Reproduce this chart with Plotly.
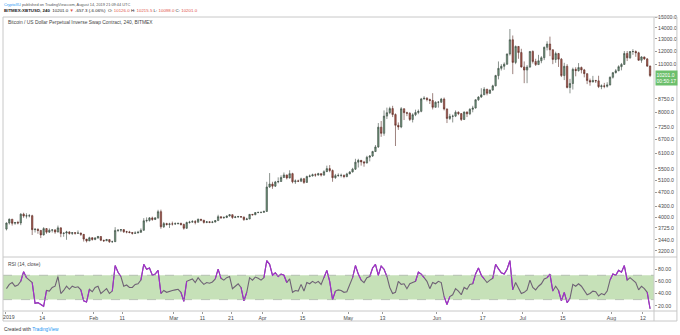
import pandas as pd
import plotly.graph_objects as go

# ---- XBTUSD daily OHLC, 2019-01-01 .. 2019-08-14 ----
opens = [
    # Jan
    3693, 3844, 3943, 3837, 3858, 3845, 4077, 4026, 4031, 4035, 3679, 3688, 3661, 3553, 3705, 3619,
    3666, 3673, 3623, 3723, 3588, 3597, 3623, 3587, 3607, 3593, 3598, 3566, 3457, 3415, 3487,
    # Feb
    3448, 3483, 3515, 3430, 3419, 3445, 3396, 3397, 3661, 3665, 3680, 3628, 3624, 3611, 3590, 3600,
    3616, 3665, 3901, 3911, 3977, 3935, 3978, 4144, 3749, 3830, 3807, 3822,
    # Mar
    3819, 3826, 3836, 3808, 3713, 3858, 3867, 3880, 3863, 3940, 3918, 3860, 3875, 3861, 3868, 3906,
    4010, 3982, 3988, 4028, 4061, 3988, 4002, 4011, 4000, 3932, 3949, 4071, 4060, 4121, 4125,
    # Apr
    4126, 4151, 4880, 4976, 4907, 5045, 5060, 5195, 5285, 5180, 5330, 5050, 5080, 5070, 5150, 5030,
    5230, 5250, 5290, 5280, 5330, 5280, 5400, 5510, 5440, 5190, 5260, 5270, 5270, 5230,
    # May
    5320, 5390, 5490, 5750, 5820, 5760, 5720, 5940, 5990, 6170, 6360, 7250, 6960, 7800, 7980, 8200,
    7880, 7340, 7260, 8190, 7980, 7950, 7630, 7870, 7990, 8050, 8740, 8780, 8710, 8650, 8270,
    # Jun
    8550, 8550, 8730, 8180, 7680, 7790, 7800, 8000, 7930, 7630, 8010, 7920, 8160, 8230, 8690, 8850,
    8980, 9320, 9070, 9270, 9530, 10200, 10700, 10850, 11000, 11770, 12930, 11130, 12370, 11880,
    # Jul
    10800, 10580, 10790, 11970, 11200, 10970, 11250, 11480, 12300, 12570, 12100, 11350, 11800, 11370,
    10200, 10850, 9430, 9680, 10630, 10540, 10760, 10590, 10330, 9870, 9770, 9880, 9850, 9480, 9530,
    9500, 9590,
    # Aug
    10090, 10400, 10530, 10820, 10980, 11810, 11470, 11960, 11960, 11860, 11290, 11540, 11390, 10860,
]
highs = [
    3860, 3960, 3945, 3870, 3900, 4100, 4115, 4100, 4080, 4060, 3720, 3710, 3670, 3740, 3715, 3710,
    3690, 3690, 3780, 3730, 3610, 3650, 3640, 3620, 3620, 3660, 3605, 3570, 3440, 3510, 3500,
    3500, 3530, 3520, 3440, 3460, 3450, 3420, 3740, 3690, 3690, 3685, 3650, 3650, 3620, 3640, 3650,
    3710, 3970, 3990, 4000, 4010, 3990, 4195, 4200, 3870, 3850, 3850, 3880,
    3860, 3850, 3850, 3830, 3880, 3900, 3920, 3920, 3960, 3950, 3920, 3890, 3890, 3900, 3920, 4060,
    4010, 4020, 4040, 4080, 4070, 4030, 4030, 4020, 4010, 3980, 4080, 4080, 4130, 4140, 4140,
    4170, 5050, 5350, 5050, 5080, 5200, 5270, 5370, 5290, 5450, 5360, 5130, 5120, 5190, 5180, 5260,
    5300, 5330, 5340, 5360, 5340, 5450, 5620, 5640, 5480, 5320, 5340, 5330, 5300, 5360,
    5420, 5540, 5880, 5880, 5800, 5800, 6000, 6030, 6200, 6440, 7450, 7550, 8100, 8250, 8300, 8350,
    7940, 7480, 8280, 8180, 8030, 8000, 7950, 8140, 8150, 8800, 8900, 8840, 8750, 9080, 8600,
    8620, 8800, 8820, 8200, 7920, 7880, 8100, 8050, 7950, 8050, 8050, 8220, 8350, 8720, 8900, 9380,
    9450, 9340, 9300, 9600, 10250, 11200, 11000, 11130, 11800, 13880, 13300, 12450, 12300, 12180,
    11200, 10930, 12000, 12050, 11400, 11700, 11600, 12360, 12800, 13200, 12120, 11950, 11850, 11460,
    11100, 11000, 9980, 10750, 10780, 11080, 10830, 10660, 10350, 10000, 10180, 9900, 10190, 9620,
    9720, 9760, 10140,
    10450, 10650, 10920, 11090, 12000, 12000, 12000, 12150, 12050, 11940, 11600, 11560, 11460, 10900,
]
lows = [
    3660, 3805, 3780, 3800, 3810, 3790, 3980, 3960, 3990, 3550, 3610, 3580, 3480, 3540, 3580, 3600,
    3610, 3580, 3610, 3500, 3510, 3440, 3560, 3550, 3560, 3580, 3530, 3400, 3380, 3410, 3420,
    3430, 3460, 3410, 3390, 3410, 3370, 3375, 3390, 3620, 3620, 3600, 3590, 3590, 3560, 3580, 3590,
    3600, 3650, 3860, 3880, 3900, 3920, 3950, 3700, 3720, 3780, 3720, 3780,
    3800, 3810, 3780, 3680, 3700, 3830, 3850, 3810, 3860, 3890, 3830, 3840, 3840, 3840, 3860, 3900,
    3950, 3950, 3970, 4010, 3950, 3970, 3980, 3980, 3900, 3920, 3940, 4040, 4050, 4100, 4100,
    4110, 4140, 4850, 4820, 4880, 5000, 5050, 5180, 5130, 5160, 5000, 4980, 5040, 5040, 4980, 5020,
    5200, 5230, 5220, 5260, 5230, 5250, 5390, 5380, 5050, 5150, 5220, 5200, 5170, 5200,
    5310, 5370, 5460, 5550, 5620, 5580, 5700, 5780, 5950, 6150, 6320, 6800, 6850, 7650, 7900, 7750,
    6400, 7120, 7200, 7600, 7800, 7550, 7480, 7800, 7900, 8000, 8700, 8600, 8450, 8150, 8250,
    8250, 8520, 8100, 7450, 7600, 7480, 7750, 7850, 7550, 7600, 7750, 7850, 8000, 8200, 8630, 8800,
    8970, 8950, 9050, 9220, 9500, 9950, 10550, 10600, 10950, 11650, 10300, 11000, 11400, 10750,
    9700, 9700, 10750, 11050, 10870, 10950, 11070, 11300, 12050, 11600, 11000, 11100, 10800, 10100,
    9900, 9370, 9070, 9300, 10150, 10470, 10350, 10080, 9640, 9540, 9770, 9710, 9390, 9320,
    9380, 9420, 9550,
    10000, 10340, 10500, 10560, 10970, 11230, 11400, 11700, 11550, 11250, 11100, 11320, 10800, 10100,
]
closes = [
    3844, 3943, 3837, 3858, 3845, 4077, 4026, 4031, 4035, 3679, 3688, 3661, 3553, 3705, 3619, 3666,
    3673, 3623, 3723, 3588, 3597, 3623, 3587, 3607, 3593, 3598, 3566, 3457, 3415, 3487, 3448,
    3483, 3515, 3430, 3419, 3445, 3396, 3397, 3661, 3665, 3680, 3628, 3624, 3611, 3590, 3600, 3616,
    3665, 3901, 3911, 3977, 3935, 3978, 4144, 3749, 3830, 3807, 3822, 3819,
    3826, 3836, 3808, 3713, 3858, 3867, 3880, 3863, 3940, 3918, 3860, 3875, 3861, 3868, 3906, 4010,
    3982, 3988, 4028, 4061, 3988, 4002, 4011, 4000, 3932, 3949, 4071, 4060, 4121, 4125, 4126,
    4151, 4880, 4976, 4907, 5045, 5060, 5195, 5285, 5180, 5330, 5050, 5080, 5070, 5150, 5030, 5230,
    5250, 5290, 5280, 5330, 5280, 5400, 5510, 5440, 5190, 5260, 5270, 5270, 5230, 5320,
    5390, 5490, 5750, 5820, 5760, 5720, 5940, 5990, 6170, 6360, 7250, 6960, 7800, 7980, 8200, 7880,
    7340, 7260, 8190, 7980, 7950, 7630, 7870, 7990, 8050, 8740, 8780, 8710, 8650, 8270, 8550,
    8550, 8730, 8180, 7680, 7790, 7800, 8000, 7930, 7630, 8010, 7920, 8160, 8230, 8690, 8850, 8980,
    9320, 9070, 9270, 9530, 10200, 10700, 10850, 11000, 11770, 12930, 11130, 12370, 11880, 10800,
    10580, 10790, 11970, 11200, 10970, 11250, 11480, 12300, 12570, 12100, 11350, 11800, 11370, 10200,
    10850, 9430, 9680, 10630, 10540, 10760, 10590, 10330, 9870, 9770, 9880, 9850, 9480, 9530,
    9500, 9590, 10090,
    10400, 10530, 10820, 10980, 11810, 11470, 11960, 11960, 11860, 11290, 11540, 11390, 10860, 10201,
]

# ---- RSI(14, close), one reading per day ----
rsi = [
    # Jan
    48, 55, 58, 52, 54, 60, 76, 66, 62, 58, 24, 25, 22, 19, 45, 44, 50, 52, 68, 40, 45, 52, 47, 52,
    50, 51, 46, 28, 26, 47, 43,
    # Feb
    50, 52, 40, 44, 48, 40, 44, 86, 75, 68, 52, 54, 50, 50, 55, 56, 62, 88, 80, 82, 70, 72, 78, 40,
    45, 42, 44, 45,
    # Mar
    46, 47, 42, 27, 60, 62, 64, 58, 66, 60, 55, 58, 57, 59, 64, 80, 65, 62, 66, 68, 48, 52, 56, 50,
    28, 42, 66, 62, 67, 65, 62,
    # Apr
    66, 94, 88, 70, 74, 68, 72, 70, 58, 64, 42, 45, 44, 55, 44, 58, 56, 60, 57, 60, 55, 66, 78, 60,
    30, 44, 46, 45, 42, 43,
    # May
    55, 66, 86, 72, 62, 58, 66, 68, 82, 88, 70, 85, 80, 68, 50, 40, 42, 60, 55, 56, 48, 56, 58, 60,
    75, 72, 66, 60, 48, 58, 56,
    # Jun
    60, 58, 35, 22, 35, 38, 48, 44, 38, 50, 47, 55, 56, 72, 82, 70, 64, 58, 62, 65, 88, 80, 74, 72,
    80, 94, 46, 58, 50, 40,
    # Jul
    42, 46, 62, 50, 46, 52, 56, 64, 66, 72, 44, 52, 45, 28, 42, 25, 32, 55, 52, 56, 52, 45, 38, 40,
    44, 43, 36, 40, 38, 44, 62,
    # Aug
    72, 70, 78, 75, 86, 62, 66, 62, 58, 46, 52, 48, 42, 15,
]

time_tick_dates = ["2019-01-01", "2019-01-14", "2019-02-01", "2019-02-11", "2019-03-01",
                   "2019-03-11", "2019-03-21", "2019-04-01", "2019-04-15", "2019-05-01",
                   "2019-05-13", "2019-06-01", "2019-06-17", "2019-07-01", "2019-07-15",
                   "2019-08-01", "2019-08-12"]
time_tick_text = ["", "14", "Feb", "11", "Mar", "11", "21", "Apr", "15", "May", "13",
                  "Jun", "17", "Jul", "15", "Aug", "12"]
year_label = "2019"

price_ticks = [15000, 14000, 13000, 12000, 11000, 8750, 8000, 7250, 6700, 6100, 5500, 5100,
               4700, 4300, 4000, 3725, 3440, 3200]
rsi_ticks = [20, 40, 60, 80]

last_price = 10201.0
countdown = "00:50:17"

dates = pd.date_range("2019-01-01 12:00", periods=len(closes), freq="D")

FONT = "Liberation Sans"

fig = go.Figure()
fig.add_trace(go.Candlestick(
    x=dates, open=opens, high=highs, low=lows, close=closes,
    xaxis="x", yaxis="y", whiskerwidth=0,
    increasing=dict(line=dict(color="#3d4a42", width=0.6), fillcolor="#6f977c"),
    decreasing=dict(line=dict(color="#5a2d27", width=0.6), fillcolor="#a9574c"),
    showlegend=False, hoverinfo="skip",
))

# RSI line, with the overbought / oversold stretches in purple
fig.add_trace(go.Scatter(x=dates, y=rsi, xaxis="x2", yaxis="y2", mode="lines",
                         line=dict(color="#6f6275", width=1.1), showlegend=False,
                         hoverinfo="skip"))
n = len(rsi)
outside = [(v >= 70 or v <= 30) for v in rsi]
rsi_ext = [rsi[i] if (outside[i] or (i > 0 and outside[i - 1]) or (i < n - 1 and outside[i + 1]))
           else None for i in range(n)]
fig.add_trace(go.Scatter(x=dates, y=rsi_ext, xaxis="x2", yaxis="y2", mode="lines",
                         line=dict(color="#a42bd0", width=1.1), connectgaps=False,
                         showlegend=False, hoverinfo="skip"))

# plot area: x 3..656 px, y 17..311 px
L, R, T, B = 3, 24, 17, 24
W, H = 680, 335
pw, ph = W - L - R, H - T - B


def px(xp):
    return (xp - L) / pw


def py(yp):
    return (H - B - yp) / ph


split = py(257)

xr = ["2018-12-31 07:00", "2019-08-15 21:00"]
axis_font = dict(family=FONT, size=5.2, color="#4a4a4a")

fig.update_layout(
    width=W, height=H, margin=dict(l=L, r=R, t=T, b=B),
    paper_bgcolor="white", plot_bgcolor="white",
    xaxis=dict(domain=[0, 1], anchor="y", range=xr, showticklabels=False, showgrid=False,
               zeroline=False, rangeslider=dict(visible=False), matches="x2", ticks=""),
    xaxis2=dict(domain=[0, 1], anchor="y2", range=xr, showgrid=False, zeroline=False,
                tickvals=time_tick_dates, ticktext=time_tick_text, tickfont=axis_font,
                ticks="outside", ticklen=2, tickcolor="#9a9a9a", tickangle=0),
    yaxis=dict(domain=[split, 1], anchor="x", type="log", side="right",
               range=[3.4871, 4.1770], showgrid=False, zeroline=False,
               tickvals=price_ticks, ticktext=[f"{v:.1f}" for v in price_ticks],
               tickfont=axis_font, ticks="outside", ticklen=2, tickcolor="#9a9a9a"),
    yaxis2=dict(domain=[0, split], anchor="x2", side="right", range=[11.3, 100],
                showgrid=False, zeroline=False, tickvals=rsi_ticks,
                ticktext=[f"{v:.2f}" for v in rsi_ticks], tickfont=axis_font,
                ticks="outside", ticklen=2, tickcolor="#9a9a9a"),
)

shapes = [
    # RSI 30-70 band
    dict(type="rect", xref="x2 domain", yref="y2", x0=0, x1=1, y0=30, y1=70,
         fillcolor="rgba(128,189,98,0.45)", line=dict(width=0), layer="below"),
    dict(type="line", xref="x2 domain", yref="y2", x0=0, x1=1, y0=70, y1=70,
         line=dict(color="#9aa39a", width=0.6, dash="dash")),
    dict(type="line", xref="x2 domain", yref="y2", x0=0, x1=1, y0=30, y1=30,
         line=dict(color="#9aa39a", width=0.6, dash="dash")),
]
frame = dict(color="#c8c8c8", width=1)
for (x0, y0, x1, y1) in [
    (3, 17, 679, 17),      # top
    (3, 257, 679, 257),    # pane separator
    (3, 311, 679, 311),    # time scale top
    (3, 321, 679, 321),    # bottom
    (3, 17, 3, 321),       # left
    (656, 17, 656, 321),   # price scale
    (679, 17, 679, 321),   # right
]:
    shapes.append(dict(type="line", xref="paper", yref="paper", x0=px(x0), x1=px(x1),
                       y0=py(y0), y1=py(y1), line=frame))
fig.update_layout(shapes=shapes)

red = "#e0524a"
annotations = [
    dict(text="<span style='color:#2196f3'>CryptoXU</span> published on TradingView.com, "
              "August 14, 2019 21:09:44 UTC",
         x=px(2), y=py(4.5), font=dict(family=FONT, size=3.9, color="#555")),
    dict(text="<b>BITMEX:XBTUSD, 240</b>  10201.0 <span style='color:%s'>▼</span> -657.3 (-6.06%%)"
              "  O: <span style='color:%s'>10126.0</span> H: <span style='color:%s'>10215.5</span>"
              " L: <span style='color:%s'>10098.0</span> C: <span style='color:%s'>10201.0</span>"
              % (red, red, red, red, red),
         x=px(2), y=py(10.5), font=dict(family=FONT, size=4.4, color="#222")),
    dict(text="Bitcoin / US Dollar Perpetual Inverse Swap Contract, 240, BITMEX",
         x=px(6), y=py(22.7), font=dict(family=FONT, size=4.9, color="#444")),
    dict(text="RSI (14, close)", x=px(6), y=py(264), font=dict(family=FONT, size=4.9, color="#444")),
    dict(text="Created with <span style='color:#2196f3'>TradingView</span>",
         x=px(2), y=py(329), font=dict(family=FONT, size=4.8, color="#333")),
    # year label at the very left of the time scale
    dict(text=year_label, x=px(1), y=py(316.5), font=axis_font),
]
for a in annotations:
    a.update(xref="paper", yref="paper", xanchor="left", yanchor="middle", showarrow=False)

# current price tag on the price scale
annotations.append(dict(
    text=f"{last_price:.1f}<br>{countdown}", xref="paper", yref="paper", x=px(657),
    y=py(78), xanchor="left", yanchor="middle", showarrow=False, align="left",
    bgcolor="#6cbf6c", borderpad=0.5,
    font=dict(family=FONT, size=5, color="white")))
fig.update_layout(annotations=annotations)

fig.write_html("out.html")
